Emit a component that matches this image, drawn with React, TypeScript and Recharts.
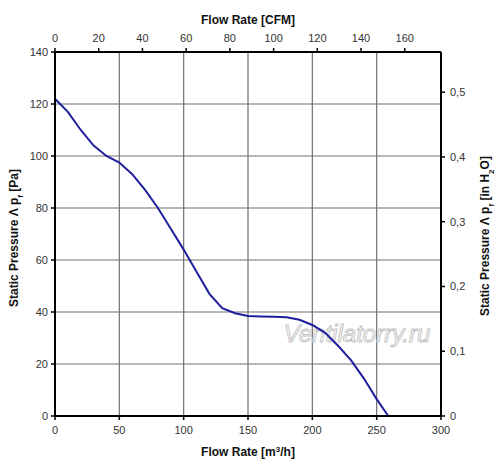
import { LineChart, Line, XAxis, YAxis, CartesianGrid, Customized } from 'recharts';

// fan curve: flow in m³/h, static pressure in Pa
const flowM3h = [0, 10, 20, 30, 40, 50, 60, 70, 80, 90, 100, 110, 120, 130, 140, 150, 160, 170, 180, 190, 200, 210, 220, 230, 240, 250, 259];
const pressurePa = [122, 117, 110, 104, 100, 97.5, 93, 87, 80, 72, 64, 55.5, 47, 41.5, 39.5, 38.5, 38.3, 38.2, 38, 37, 35, 32, 27, 21.5, 14.5, 6.5, 0];

const m3hTicks = [0, 50, 100, 150, 200, 250, 300];
const cfmTicks = [0, 20, 40, 60, 80, 100, 120, 140, 160];
const paTicks = [0, 20, 40, 60, 80, 100, 120, 140];
const inH2OTicks = [0, 0.1, 0.2, 0.3, 0.4, 0.5];

const M3H_PER_CFM = 1.699;
const PA_PER_INH2O = 249.09;

const data = flowM3h.map((flow, i) => ({ flow, pa: pressurePa[i] }));

const tickStyle = { fontSize: 11, fill: '#333', fontFamily: 'Liberation Sans, Arial, sans-serif' };
const axisLine = { stroke: '#000', strokeWidth: 2 };
const tickLine = { stroke: '#000', strokeWidth: 1.5 };
const titleStyle = { fontSize: 12, fontWeight: 700, fill: '#111', fontFamily: 'Liberation Sans, Arial, sans-serif' };

const Titles = () => (
  <g>
    <text x={248} y={24} textAnchor="middle" style={titleStyle}>Flow Rate [CFM]</text>
    <text x={248} y={456} textAnchor="middle" style={titleStyle}>
      Flow Rate [m<tspan baselineShift="super" fontSize={8}>3</tspan>/h]
    </text>
    <text x={18} y={238} textAnchor="middle" transform="rotate(-90 18 238)" style={titleStyle}>
      Static Pressure Λ p<tspan baselineShift="sub" fontSize={8}>f</tspan> [Pa]
    </text>
    <text x={489} y={236} textAnchor="middle" transform="rotate(-90 489 236)" style={titleStyle}>
      Static Pressure Λ p<tspan baselineShift="sub" fontSize={8}>f</tspan> [in H<tspan baselineShift="sub" fontSize={8}>2</tspan>O]
    </text>
    <text
      x={357}
      y={342}
      textAnchor="middle"
      fontSize={24}
      fontStyle="italic"
      fontFamily="Liberation Sans, Arial, sans-serif"
      fill="#ffffff"
      fillOpacity={0.6}
      stroke="#c4c4c4"
      strokeWidth={1}
    >
      Ventilatorry.ru
    </text>
  </g>
);

export default function App() {
  return (
    <div style={{ position: 'absolute', left: 0, top: 0, width: 500, height: 473, background: '#fff' }}>
      <LineChart width={500} height={473} data={data} margin={{ top: 22, right: 24, bottom: 27, left: 20 }}>
        <CartesianGrid xAxisId="m3h" yAxisId="pa" stroke="#707070" strokeWidth={1.2} />
        <XAxis
          xAxisId="m3h"
          dataKey="flow"
          type="number"
          domain={[0, 300]}
          ticks={m3hTicks}
          height={30}
          tick={tickStyle}
          axisLine={axisLine}
          tickLine={tickLine}
          tickSize={4}
          tickMargin={6}
        />
        <XAxis
          xAxisId="cfm"
          orientation="top"
          dataKey="flow"
          type="number"
          domain={[0, 300]}
          ticks={cfmTicks.map((c) => c * M3H_PER_CFM)}
          tickFormatter={(v) => String(Math.round(v / M3H_PER_CFM))}
          height={30}
          tick={tickStyle}
          axisLine={axisLine}
          tickLine={tickLine}
          tickSize={4}
          tickMargin={6}
        />
        <YAxis
          yAxisId="pa"
          type="number"
          domain={[0, 140]}
          ticks={paTicks}
          width={35}
          tick={tickStyle}
          axisLine={axisLine}
          tickLine={tickLine}
          tickSize={4}
          tickMargin={3}
        />
        <YAxis
          yAxisId="inh2o"
          orientation="right"
          type="number"
          domain={[0, 140]}
          ticks={inH2OTicks.map((v) => v * PA_PER_INH2O)}
          tickFormatter={(v) => {
            const n = Math.round((v / PA_PER_INH2O) * 10) / 10;
            return n === 0 ? '0' : n.toFixed(1).replace('.', ',');
          }}
          width={35}
          tick={tickStyle}
          axisLine={axisLine}
          tickLine={tickLine}
          tickSize={4}
          tickMargin={5}
        />
        {/* invisible twin so the secondary axes get a series */}
        <Line
          xAxisId="cfm"
          yAxisId="inh2o"
          dataKey="pa"
          stroke="none"
          dot={false}
          activeDot={false}
          isAnimationActive={false}
        />
        <Line
          xAxisId="m3h"
          yAxisId="pa"
          dataKey="pa"
          type="linear"
          stroke="#1f1f9e"
          strokeWidth={2}
          dot={false}
          isAnimationActive={false}
        />
        <Customized component={Titles} />
      </LineChart>
    </div>
  );
}
